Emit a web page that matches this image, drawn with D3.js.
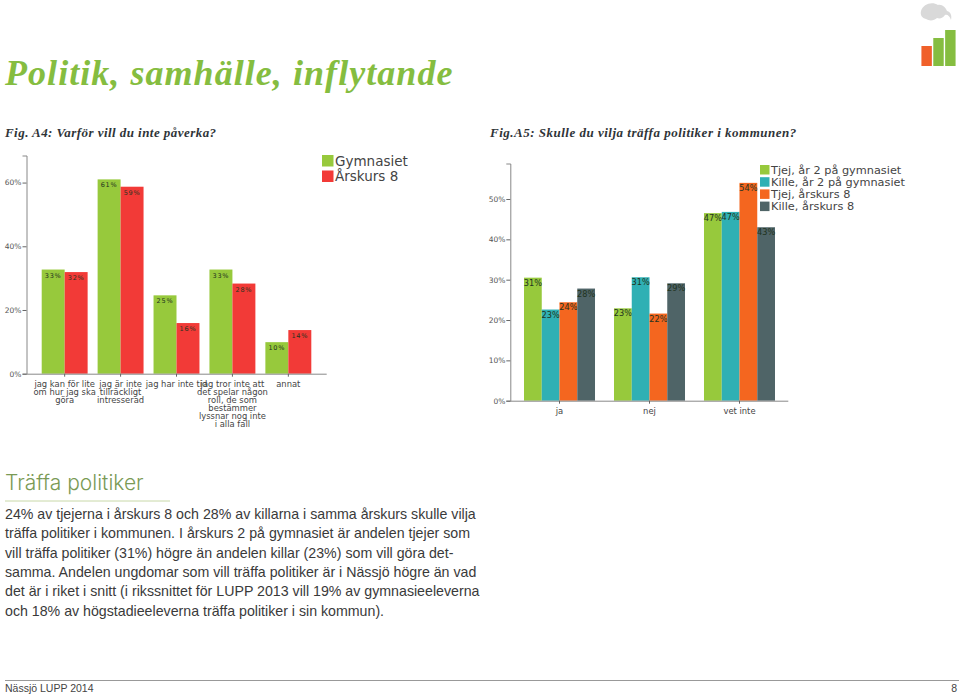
<!DOCTYPE html>
<html><head><meta charset="utf-8">
<script src="https://cdn.jsdelivr.net/npm/d3@7/dist/d3.min.js"></script>
<style>html,body{margin:0;padding:0;background:#fff}svg{display:block}</style>
</head><body><svg id="c" width="959" height="696"></svg>
<script>
const a4Categories=[["jag kan för lite","om hur jag ska","göra"],["jag är inte","tillräckligt","intresserad"],["jag har inte tid"],["jag tror inte att","det spelar någon","roll, de som","bestämmer","lyssnar nog inte","i alla fall"],["annat"]];
const a4Series=["Gymnasiet","Årskurs 8"];
const a4Gymnasiet=[32.7,61,24.6,32.7,9.9];
const a4Arskurs8=[31.9,58.7,15.9,28.3,13.7];
const a4Ticks=[0,20,40,60];
const a4Colors=["#97c93c","#f23a37"];
const a5Categories=["ja","nej","vet inte"];
const a5Series=["Tjej, år 2 på gymnasiet","Kille, år 2 på gymnasiet","Tjej, årskurs 8","Kille, årskurs 8"];
const a5TjejGy=[30.5,22.9,46.5];
const a5KilleGy=[22.6,30.6,46.8];
const a5TjejAk8=[24.4,21.6,54];
const a5KilleAk8=[27.8,29.1,43];
const a5Ticks=[0,10,20,30,40,50];
const a5Colors=["#97c93c","#2fb0b4","#f4661f","#4f6467"];
const bodyLines=["24% av tjejerna i årskurs 8 och 28% av killarna i samma årskurs skulle vilja","träffa politiker i kommunen. I årskurs 2 på gymnasiet är andelen tjejer som","vill träffa politiker (31%) högre än andelen killar (23%) som vill göra det-","samma. Andelen ungdomar som vill träffa politiker är i Nässjö högre än vad","det är i riket i snitt (i rikssnittet för LUPP 2013 vill 19% av gymnasieeleverna","och 18% av högstadieeleverna träffa politiker i sin kommun)."];
const logoBars=[20,28,36];

const svg=d3.select("#c");
const txt=(x,y,s,o={})=>svg.append("text").attr("x",x).attr("y",y).text(s)
  .attr("font-family",o.f||"'Liberation Sans'").attr("font-size",o.s||12).attr("fill",o.c||"#333")
  .attr("font-weight",o.w||null).attr("font-style",o.i||null).attr("text-anchor",o.a||null)
  .attr("letter-spacing",o.ls||null);

// headings
txt(5,85,"Politik, samhälle, inflytande",{f:"'Liberation Serif'",s:36,w:"bold",i:"italic",c:"#85bd40",ls:1.05});
txt(5,137,"Fig. A4: Varför vill du inte påverka?",{f:"'Liberation Serif'",s:13,w:"bold",i:"italic",c:"#2f3438",ls:.45});
txt(490,137,"Fig.A5: Skulle du vilja träffa politiker i kommunen?",{f:"'Liberation Serif'",s:13,w:"bold",i:"italic",c:"#2f3438",ls:.5});

function chart(cfg){
  const g=svg.append("g");
  const x=d3.scaleBand().domain(d3.range(cfg.cats.length)).range(cfg.band).paddingInner(cfg.pad);
  const x1=d3.scaleBand().domain(d3.range(cfg.series.length)).range([0,x.bandwidth()]);
  const y=d3.scaleLinear().domain([0,cfg.yMax]).range([cfg.base,cfg.top]);
  const yAxis=d3.axisLeft(y).tickValues(cfg.ticks).tickFormat(d=>d+"%").tickSize(4).tickPadding(1);
  const ya=g.append("g").attr("transform",`translate(${cfg.axisX},0)`).call(yAxis);
  ya.selectAll("text").attr("font-family","'DejaVu Sans'").attr("font-size",7.5).attr("fill","#555");
  ya.selectAll("line").attr("stroke","#666");
  ya.select(".domain").attr("stroke","#888").attr("stroke-width",1);
  cfg.series.forEach((s,i)=>{
    const sg=g.append("g");
    sg.selectAll("rect").data(cfg.vals[i]).join("rect")
      .attr("x",(d,k)=>x(k)+x1(i)).attr("width",x1.bandwidth())
      .attr("y",d=>y(d)).attr("height",d=>y(0)-y(d)).attr("fill",cfg.colors[i]);
    sg.selectAll("text").data(cfg.vals[i]).join("text")
      .attr("x",(d,k)=>x(k)+x1(i)+x1.bandwidth()/2).attr("y",d=>y(d)+cfg.labelDy)
      .attr("text-anchor","middle").attr("font-family","'DejaVu Sans'")
      .attr("font-size",cfg.labelSize).attr("letter-spacing",cfg.labelLs).attr("fill","#1f3320")
      .text(d=>Math.round(d)+"%");
  });
  g.append("line").attr("x1",cfg.axisX).attr("x2",cfg.axisEnd).attr("y1",cfg.base+.5).attr("y2",cfg.base+.5).attr("stroke","#888");
  cfg.cats.forEach((c,k)=>{
    const cx=x(k)+x.bandwidth()/2;
    g.append("line").attr("x1",cx).attr("x2",cx).attr("y1",cfg.base).attr("y2",cfg.base+3).attr("stroke","#666");
    [].concat(c).forEach((l,j)=>g.append("text").attr("x",cx).attr("y",cfg.base+cfg.catY+j*8.1)
      .attr("text-anchor","middle").attr("font-family","'DejaVu Sans'").attr("font-size",8.4).attr("fill","#444").text(l));
  });
  const lg=g.append("g");
  cfg.series.forEach((s,i)=>{
    const yy=cfg.leg.y+i*cfg.leg.step;
    lg.append("rect").attr("x",cfg.leg.x).attr("y",yy).attr("width",cfg.leg.size).attr("height",cfg.leg.size).attr("fill",cfg.colors[i]);
    lg.append("text").attr("x",cfg.leg.x+cfg.leg.size+1.5).attr("y",yy+cfg.leg.size-1).text(s)
      .attr("font-family","'DejaVu Sans'").attr("font-size",cfg.leg.font).attr("fill","#444");
  });
}
chart({cats:a4Categories,series:a4Series,vals:[a4Gymnasiet,a4Arskurs8],colors:a4Colors,ticks:a4Ticks,
  band:[41.7,311.3],pad:.1786,yMax:68.5,base:373.7,top:155.5,axisX:26.5,axisEnd:326.7,
  labelDy:8,labelSize:6.5,labelLs:.8,catY:13,
  leg:{x:322,y:155,size:11.5,step:15.5,font:13.5}});
chart({cats:a5Categories,series:a5Series,vals:[a5TjejGy,a5KilleGy,a5TjejAk8,a5KilleAk8],colors:a5Colors,ticks:a5Ticks,
  band:[524,775],pad:.211,yMax:58.8,base:400.7,top:163.5,axisX:510.3,axisEnd:788.3,
  labelDy:8,labelSize:8.2,labelLs:0,catY:13,
  leg:{x:760,y:165,size:9.5,step:12.2,font:11.3}});

// body
txt(5,490,"Träffa politiker",{s:21,c:"#7a9a55",f:"'Inter'",w:300});
svg.append("line").attr("x1",5).attr("x2",170).attr("y1",501).attr("y2",501).attr("stroke","#c8d8a8");
bodyLines.forEach((l,i)=>txt(5,519+i*19.3,l,{s:14.2,c:"#3a3a3a",f:"'Liberation Sans'"}));

// footer
svg.append("line").attr("x1",5).attr("x2",959).attr("y1",680.5).attr("y2",680.5).attr("stroke","#999");
txt(5,692,"Nässjö LUPP 2014",{s:10.5,c:"#444"});
txt(957,692,"8",{s:10.5,c:"#444",a:"end"});

// logo
const lg=svg.append("g");
lg.append("path").attr("d","M921 11c2-7 11-10 17-6 4-1 8 3 9 6 4 1 5 5 4 9-1-4-4-6-6-5-2 3-5 4-8 3-3 3-8 3-11 1-4-1-6-4-5-8z").attr("fill","#d9d9d9");
const lx=d3.scaleBand().domain(d3.range(logoBars.length)).range([920,957]).padding(.12);
const ly=d3.scaleLinear().domain([0,36]).range([66,30]);
const lc=["#f0602a","#85bd40","#85bd40"];
lg.selectAll("rect").data(logoBars).join("rect").attr("x",(d,i)=>lx(i)).attr("width",lx.bandwidth())
  .attr("y",d=>ly(d)).attr("height",d=>ly(0)-ly(d)).attr("fill",(d,i)=>lc[i]);
</script></body></html>
